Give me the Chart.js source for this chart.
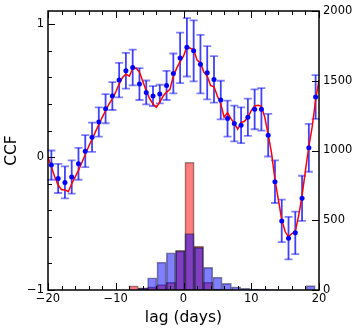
<!DOCTYPE html>
<html>
<head>
<meta charset="utf-8">
<script src="https://cdn.jsdelivr.net/npm/chart.js@4.4.1/dist/chart.umd.min.js"></script>
<style>
  html, body { margin: 0; padding: 0; background: #fff; }
</style>
</head>
<body>
<canvas id="ccfChart" width="360" height="333"></canvas>
<script>
// CCF points at half-day lags, with their error bars
const lagPts = [-19.5, -18.5, -17.5, -16.5, -15.5, -14.5, -13.5, -12.5, -11.5, -10.5,
  -9.5, -8.5, -7.5, -6.5, -5.5, -4.5, -3.5, -2.5, -1.5, -0.5,
  0.5, 1.5, 2.5, 3.5, 4.5, 5.5, 6.5, 7.5, 8.5, 9.5,
  10.5, 11.5, 12.5, 13.5, 14.5, 15.5, 16.5, 17.5, 18.5, 19.5];
const ccfPts = [-0.06, -0.16, -0.19, -0.15, -0.05, 0.045, 0.15, 0.265, 0.365, 0.46,
  0.58, 0.65, 0.675, 0.55, 0.487, 0.46, 0.475, 0.54, 0.63, 0.747,
  0.827, 0.80, 0.70, 0.635, 0.585, 0.43, 0.29, 0.253, 0.24, 0.30,
  0.36, 0.36, 0.165, -0.185, -0.48, -0.61, -0.57, -0.31, 0.07, 0.453];
const ccfErr = [0.11, 0.11, 0.12, 0.125, 0.12, 0.12, 0.11, 0.11, 0.11, 0.105,
  0.13, 0.135, 0.135, 0.12, 0.09, 0.075, 0.07, 0.11, 0.15, 0.19,
  0.22, 0.23, 0.22, 0.2, 0.175, 0.145, 0.135, 0.135, 0.135, 0.14,
  0.15, 0.16, 0.16, 0.16, 0.16, 0.16, 0.16, 0.17, 0.18, 0.165];

// the finer red CCF curve
const lagCurve = [-20, -19.5, -19, -18.5, -18, -17.5, -17, -16.5, -16, -15.5,
  -15, -14.5, -14, -13.5, -13, -12.5, -12, -11.5, -11, -10.5,
  -10, -9.5, -9, -8.5, -8, -7.5, -7, -6.5, -6, -5.5,
  -5, -4.5, -4, -3.5, -3, -2.5, -2, -1.5, -1, -0.5,
  0, 0.5, 1, 1.5, 2, 2.5, 3, 3.5, 4, 4.5,
  5, 5.5, 6, 6.5, 7, 7.5, 8, 8.5, 9, 9.5,
  10, 10.5, 11, 11.5, 12, 12.5, 13, 13.5, 14, 14.5,
  15, 15.5, 16, 16.5, 17, 17.5, 18, 18.5, 19, 19.5, 20];
const ccfCurve = [0.0, -0.07, -0.15, -0.21, -0.245, -0.245, -0.26, -0.20, -0.15, -0.10,
  -0.04, 0.02, 0.08, 0.135, 0.19, 0.245, 0.30, 0.35, 0.40, 0.44,
  0.49, 0.55, 0.60, 0.625, 0.61, 0.665, 0.67, 0.64, 0.57, 0.50,
  0.44, 0.40, 0.375, 0.415, 0.46, 0.49, 0.51, 0.61, 0.67, 0.72,
  0.76, 0.83, 0.82, 0.81, 0.73, 0.71, 0.64, 0.61, 0.54, 0.53,
  0.46, 0.40, 0.30, 0.335, 0.29, 0.255, 0.21, 0.26, 0.27, 0.30,
  0.35, 0.385, 0.39, 0.383, 0.30, 0.17, 0.03, -0.17, -0.32, -0.47,
  -0.56, -0.60, -0.575, -0.56, -0.44, -0.29, -0.10, 0.08, 0.23, 0.43, 0.58];

// lag histograms (counts, right axis)
const binCenters = [-7.3625, -5.9875, -4.6125, -3.2375, -1.8625, -0.4875, 0.8875, 2.2625, 3.6375, 5.0125,
  6.3875, 7.7625, 9.1375, 10.5125, 11.8875, 13.2625, 14.6375, 16.0125, 17.3875, 18.7625];
const countsRed = [30, 12, 22, 38, 55, 285, 916, 315, 57, 5,
  0, 0, 0, 0, 0, 0, 0, 0, 0, 0];
const countsBlue = [0, 15, 88, 200, 267, 280, 405, 305, 162, 92,
  48, 22, 12, 6, 4, 2, 0, 0, 0, 31];

const xTicks = [-20, -10, 0, 10, 20];
const yTicks = [-1, 0, 1];
const y2Ticks = [0, 500, 1000, 1500, 2000];

Chart.defaults.font.family = "'DejaVu Sans', sans-serif";
Chart.defaults.color = '#000';

const fmt = v => (v < 0 ? '\u2212' + Math.abs(v) : String(v));

// error bars, the frame and matplotlib style inward ticks
const extras = {
  id: 'extras',
  beforeDatasetsDraw(chart) {
    const { ctx, scales: { x, y } } = chart;
    ctx.save();
    ctx.lineWidth = 1.8;
    lagPts.forEach((lag, i) => {
      const px = x.getPixelForValue(lag);
      const top = y.getPixelForValue(ccfPts[i] + ccfErr[i]);
      const bot = y.getPixelForValue(ccfPts[i] - ccfErr[i]);
      ctx.strokeStyle = 'rgba(0,0,255,0.75)';
      ctx.beginPath();
      ctx.moveTo(px, top);
      ctx.lineTo(px, bot);
      ctx.stroke();
      ctx.strokeStyle = 'rgba(0,0,255,0.5)';
      ctx.beginPath();
      ctx.moveTo(px - 4, top);
      ctx.lineTo(px + 4, top);
      ctx.moveTo(px - 4, bot);
      ctx.lineTo(px + 4, bot);
      ctx.stroke();
    });
    ctx.restore();
  },
  afterDraw(chart) {
    const { ctx, chartArea: a, scales: { x, y, y2 } } = chart;
    ctx.save();
    ctx.strokeStyle = '#000';
    ctx.lineWidth = 1;
    ctx.beginPath();
    for (let v = x.min; v <= x.max; v += 2) {
      const px = Math.round(x.getPixelForValue(v)) + 0.5;
      const len = v % 10 === 0 ? 7 : 4;
      ctx.moveTo(px, a.bottom);
      ctx.lineTo(px, a.bottom - len);
      ctx.moveTo(px, a.top);
      ctx.lineTo(px, a.top + len);
    }
    for (let k = 0; k <= 10; k++) {
      const v = y.min + k * 0.2;
      const py = Math.round(y.getPixelForValue(v)) + 0.5;
      const len = k % 5 === 0 ? 7 : 4;
      ctx.moveTo(a.left, py);
      ctx.lineTo(a.left + len, py);
    }
    y2Ticks.forEach(v => {
      const py = Math.round(y2.getPixelForValue(v)) + 0.5;
      ctx.moveTo(a.right, py);
      ctx.lineTo(a.right - 7, py);
    });
    ctx.stroke();
    ctx.lineWidth = 1.5;
    ctx.strokeRect(a.left, a.top, a.right - a.left, a.bottom - a.top);
    ctx.restore();
  }
};

const fixSize = (w, h) => scale => {
  if (w) scale.width = w;
  if (h) scale.height = h;
};

new Chart(document.getElementById('ccfChart'), {
  type: 'line',
  data: {
    datasets: [
      {
        label: 'points',
        data: lagPts.map((l, i) => ({ x: l, y: ccfPts[i] })),
        showLine: false,
        pointRadius: 2.5,
        pointBackgroundColor: 'blue',
        pointBorderWidth: 0,
        yAxisID: 'y',
        order: 0
      },
      {
        label: 'ccf',
        data: lagCurve.map((l, i) => ({ x: l, y: ccfCurve[i] })),
        borderColor: 'red',
        borderWidth: 1.5,
        pointRadius: 0,
        tension: 0,
        yAxisID: 'y',
        order: 1
      },
      {
        type: 'bar',
        label: 'blue hist',
        data: binCenters.map((c, i) => ({ x: c, y: countsBlue[i] })),
        backgroundColor: 'rgba(0,0,255,0.5)',
        borderColor: 'rgba(0,0,0,0.45)',
        borderWidth: 1,
        barPercentage: 1,
        categoryPercentage: 1,
        grouped: false,
        yAxisID: 'y2',
        order: 2
      },
      {
        type: 'bar',
        label: 'red hist',
        data: binCenters.map((c, i) => ({ x: c, y: countsRed[i] })),
        backgroundColor: 'rgba(255,0,0,0.5)',
        borderColor: 'rgba(0,0,0,0.45)',
        borderWidth: 1,
        barPercentage: 1,
        categoryPercentage: 1,
        grouped: false,
        yAxisID: 'y2',
        order: 3
      }
    ]
  },
  options: {
    responsive: false,
    animation: false,
    layout: { padding: { top: 11, left: 0, right: 0, bottom: 0 } },
    plugins: { legend: { display: false }, tooltip: { enabled: false } },
    scales: {
      x: {
        type: 'linear',
        position: 'bottom',
        min: -20,
        max: 20,
        offset: false,
        grid: { display: false, drawTicks: false },
        border: { display: false },
        afterBuildTicks: s => { s.ticks = xTicks.map(v => ({ value: v })); },
        afterFit: fixSize(0, 43),
        ticks: { padding: 2, maxRotation: 0, autoSkip: false, font: { size: 11.5 }, callback: v => fmt(v) },
        title: { display: true, text: 'lag (days)', font: { size: 15.5 }, padding: { top: 0, bottom: 6 } }
      },
      y: {
        type: 'linear',
        position: 'left',
        min: -1,
        max: 1.1,
        grid: { display: false, drawTicks: false },
        border: { display: false },
        afterBuildTicks: s => { s.ticks = yTicks.map(v => ({ value: v })); },
        afterFit: fixSize(48, 0),
        ticks: { padding: 4, font: { size: 11.5 }, callback: v => fmt(v) },
        title: { display: true, text: 'CCF', font: { size: 15.5 }, padding: { top: 3, bottom: 0 } }
      },
      y2: {
        type: 'linear',
        position: 'right',
        min: 0,
        max: 2000,
        grid: { display: false, drawTicks: false },
        border: { display: false },
        afterBuildTicks: s => { s.ticks = y2Ticks.map(v => ({ value: v })); },
        afterFit: fixSize(41, 0),
        ticks: { padding: 4, font: { size: 11.5 }, callback: v => String(v) }
      }
    }
  },
  plugins: [extras]
});
</script>
</body>
</html>
